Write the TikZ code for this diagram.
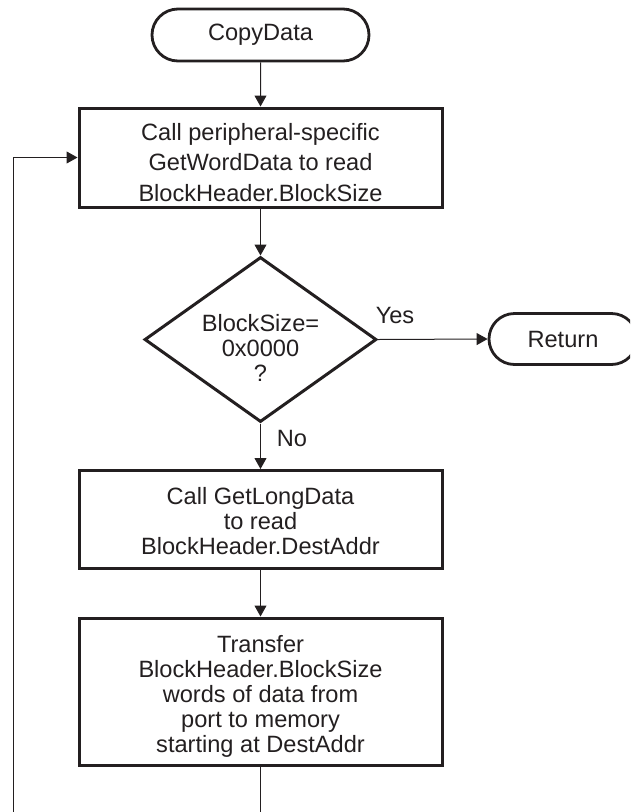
\documentclass[tikz,border=0pt]{standalone}
\usepackage{fontspec}
\setmainfont{Liberation Sans}
\usetikzlibrary{shapes.geometric,shapes.misc,arrows.meta}
\definecolor{ink}{HTML}{231F20}
\begin{document}
\begin{tikzpicture}[x=1pt,y=-1pt,
  txt/.style={font=\fontsize{23.6}{25}\selectfont, text=ink, align=center, inner sep=0pt},
  term/.style={txt, rounded rectangle, draw=ink, line width=2.8pt},
  procbox/.style={rectangle, draw=ink, line width=3pt, minimum width=363pt, inner sep=0pt},
  decision/.style={diamond, draw=ink, line width=3pt, minimum width=232pt, minimum height=165pt, shape aspect=1.406, inner sep=0pt},
  lbl/.style={font=\fontsize{23.6}{25}\selectfont, text=ink, inner sep=0pt},
  conn/.style={draw=ink, line width=1pt, -{Triangle[length=11pt,width=12pt]}},
  plain/.style={draw=ink, line width=1pt}
]
\useasboundingbox (0,0) rectangle (630,812);
\clip (0,0) rectangle (630,812);

% shapes
\node[term, minimum width=217pt, minimum height=52pt] (start) at (260.5,35) {CopyData};
\node[procbox, minimum height=99pt] (b1) at (260.5,157.5) {};
\node[decision] (dec) at (260.5,339.5) {};
\node[term, minimum width=148pt, minimum height=51pt] (ret) at (563,339) {Return};
\node[procbox, minimum height=98pt] (b2) at (260.5,519.5) {};
\node[procbox, minimum height=147pt] (b3) at (260.5,691.5) {};

% texts inside the shapes
\node[txt, font=\fontsize{23.6}{30.5}\selectfont] (b1t) at (260.5,162.5)
  {Call peripheral-specific\\GetWordData to read\\BlockHeader.BlockSize};
\node[txt] (dect) at (260.5,348) {BlockSize=\\0x0000\\?};
\node[txt] (b2t) at (260.5,521)
  {Call GetLongData\\to read\\BlockHeader.DestAddr};
\node[txt] (b3t) at (260.5,696)
  {Transfer\\BlockHeader.BlockSize\\words of data from\\port to memory\\starting at DestAddr};

% branch labels
\node[lbl] (yes) at (395,315) {Yes};
\node[lbl] (no) at (292,438) {No};

\coordinate (bc) at (260.5,812);
\coordinate (lb) at (13,812);

\draw[conn] (start) -- (b1);
\draw[conn] (b1) -- (dec);
\draw[conn] (dec.east) -- (ret.west);
\draw[conn] (dec.south) -- (b2.north);
\draw[conn] (b2) -- (b3);
\draw[plain] (b3.south) -- (bc);
\draw[conn] (lb) |- (b1.west);
\end{tikzpicture}
\end{document}
